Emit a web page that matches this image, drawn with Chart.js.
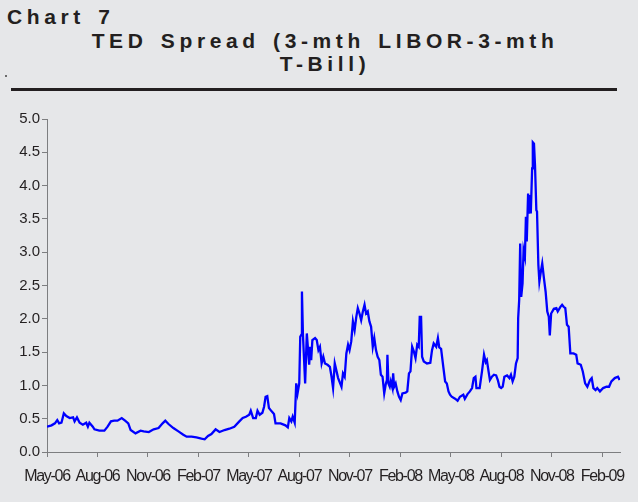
<!DOCTYPE html>
<html>
<head>
<meta charset="utf-8">
<script src="https://cdn.jsdelivr.net/npm/chart.js@4/dist/chart.umd.min.js"></script>
<style>
  html, body { margin: 0; padding: 0; }
  body { width: 638px; height: 502px; background: #e6e7e9; position: relative; overflow: hidden;
         font-family: "Liberation Sans", Arial, sans-serif; color: #231f20; }
  .t { position: absolute; font-weight: bold; font-size: 21px; line-height: 22px; white-space: nowrap;
       letter-spacing: 4.6px; word-spacing: 3px; }
  #c1 { left: 7px; top: 6px; }
  #c2 { left: 0; width: 650px; text-align: center; top: 30px; }
  #c3 { left: 0; width: 650px; text-align: center; top: 53px; }
  #rule { position: absolute; left: 11px; top: 88px; width: 606px; height: 3px; background: #231f20; }
  #dot { position: absolute; left: 5px; top: 75px; width: 2px; height: 2px; background: #6b6b6b; }
  #wrap { position: absolute; left: 0; top: 0; width: 638px; height: 502px; }
</style>
</head>
<body>
<div class="t" id="c1">Chart 7</div>
<div class="t" id="c2">TED Spread (3-mth LIBOR-3-mth</div>
<div class="t" id="c3">T-Bill)</div>
<div id="dot"></div>
<div id="rule"></div>
<div id="wrap"><canvas id="chart" width="638" height="502"></canvas></div>
<script>
// Quarter labels on the date axis (one every three months from May-06)
const tickLabels = ['May-06', 'Aug-06', 'Nov-06', 'Feb-07', 'May-07', 'Aug-07',
                    'Nov-07', 'Feb-08', 'May-08', 'Aug-08', 'Nov-08', 'Feb-09'];

// Time position in months since the start of May 2006
const months = [
  0.00, 0.27, 0.47, 0.61, 0.72, 0.86, 1.00, 1.15, 1.35, 1.55, 1.64, 1.78, 1.94, 2.13, 2.33, 2.43,
  2.52, 2.72, 2.82, 3.11, 3.41, 3.60, 3.80, 3.99, 4.19, 4.44, 4.64, 4.83, 4.97, 5.26, 5.56, 5.75,
  6.05, 6.34, 6.63, 6.87, 7.03, 7.22, 7.51, 7.81, 8.10, 8.30, 8.59, 8.88, 9.18, 9.37, 9.57, 9.77,
  10.02, 10.25, 10.55, 10.84, 11.13, 11.43, 11.63,
  11.82, 12.02, 12.11, 12.25, 12.41, 12.51, 12.64, 12.80, 12.90, 12.99, 13.09, 13.19, 13.35, 13.49,
  13.58, 13.88, 14.17, 14.31, 14.40, 14.52, 14.60, 14.72, 14.81, 14.89, 14.99, 15.05, 15.11, 15.15,
  15.21, 15.34, 15.44, 15.58, 15.64, 15.70, 15.77, 15.93, 16.03, 16.13, 16.22, 16.32, 16.42, 16.52,
  16.67, 16.81, 16.91, 17.00, 17.10, 17.30, 17.50, 17.59, 17.69, 17.79, 17.89, 17.98, 18.08, 18.18,
  18.28, 18.38, 18.47, 18.57, 18.67, 18.77, 18.87, 18.96, 19.06, 19.16, 19.26, 19.36, 19.45, 19.55,
  19.65, 19.75, 19.84, 19.94, 20.04, 20.14, 20.20, 20.23, 20.29, 20.37, 20.43, 20.53, 20.57, 20.63,
  20.72, 20.82, 20.92, 21.02, 21.12, 21.31, 21.41, 21.51, 21.60, 21.70, 21.80, 21.90, 22.00, 22.09,
  22.15, 22.23, 22.29, 22.39, 22.58, 22.78, 22.88, 22.98, 23.13,
  23.23, 23.31, 23.42, 23.56, 23.66, 23.76, 23.86, 23.95, 24.05, 24.25, 24.40, 24.54, 24.74, 24.83,
  24.99, 25.13, 25.26, 25.36, 25.46, 25.52, 25.71, 25.85, 25.97, 26.07, 26.14, 26.24, 26.32, 26.44,
  26.56, 26.69, 26.79, 26.89, 26.99, 27.08, 27.18, 27.34, 27.48, 27.57, 27.67, 27.77, 27.87, 27.97,
  28.00, 28.06, 28.12, 28.18, 28.26, 28.32, 28.40, 28.46, 28.51, 28.59, 28.65, 28.71, 28.75, 28.83,
  28.87, 28.94, 29.00, 29.08, 29.12, 29.20, 29.26, 29.33, 29.43, 29.53, 29.63, 29.73, 29.82, 29.88,
  29.96, 30.12, 30.27, 30.35, 30.51, 30.61, 30.70, 30.80, 30.90, 31.00, 31.10, 31.29, 31.45, 31.53,
  31.72, 31.84, 31.98, 32.11, 32.27, 32.37, 32.47, 32.60, 32.70, 32.86, 33.05, 33.25, 33.40, 33.54,
  33.74, 33.93, 34.03
];

// TED spread, percentage points
const spread = [
  0.38, 0.40, 0.43, 0.48, 0.43, 0.44, 0.58, 0.54, 0.51, 0.52, 0.46, 0.52, 0.44, 0.41, 0.44, 0.38,
  0.44, 0.38, 0.34, 0.32, 0.32, 0.38, 0.46, 0.47, 0.47, 0.51, 0.47, 0.43, 0.33, 0.28, 0.32, 0.31,
  0.30, 0.34, 0.36, 0.43, 0.47, 0.42, 0.36, 0.31, 0.26, 0.23, 0.23, 0.22, 0.20, 0.19, 0.24, 0.27,
  0.34, 0.30, 0.33, 0.35, 0.38, 0.46, 0.51,
  0.53, 0.56, 0.62, 0.51, 0.51, 0.62, 0.56, 0.59, 0.68, 0.83, 0.84, 0.66, 0.61, 0.57,
  0.43, 0.43, 0.40, 0.37, 0.51, 0.46, 0.53, 0.44, 1.03, 0.88, 1.03, 1.73, 1.76, 2.41,
  1.76, 1.03, 1.78, 1.31, 1.58, 1.38, 1.68, 1.71, 1.68, 1.53, 1.58, 1.33, 1.43, 1.33,
  1.31, 1.28, 1.13, 0.96, 1.33, 1.11, 0.98, 1.18, 1.13, 1.48, 1.61, 1.53, 1.66, 1.96,
  1.83, 2.03, 2.16, 2.08, 1.98, 2.11, 2.21, 2.08, 2.11, 1.96, 1.88, 1.58, 1.71, 1.53,
  1.43, 1.38, 1.16, 1.13, 0.88, 1.03, 1.08, 1.46, 1.03, 0.98, 1.06, 0.96, 1.18, 0.98,
  1.03, 0.91, 0.83, 0.78, 0.88, 0.89, 0.91, 1.18, 1.21, 1.58, 1.51, 1.41, 1.61, 1.58,
  2.03, 2.03, 1.43, 1.36, 1.33, 1.34, 1.53, 1.63, 1.58,
  1.71, 1.57, 1.55, 1.26, 1.06, 1.03, 0.91, 0.86, 0.83, 0.80, 0.77, 0.83, 0.86, 0.80,
  0.87, 0.91, 0.96, 1.11, 1.13, 0.96, 0.96, 1.21, 1.46, 1.35, 1.38, 1.21, 1.08, 1.13,
  1.16, 1.15, 1.08, 0.98, 0.96, 0.98, 1.13, 1.15, 1.11, 1.16, 1.06, 1.13, 1.33, 1.41,
  2.01, 2.28, 3.13, 2.33, 2.53, 3.03, 2.93, 3.53, 3.16, 3.88, 3.58, 3.86, 3.58, 4.26,
  4.65, 4.63, 4.31, 3.63, 3.61, 2.81, 2.56, 2.68, 2.83, 2.61, 2.41, 2.11, 2.03, 1.75,
  2.08, 2.15, 2.16, 2.11, 2.18, 2.21, 2.18, 2.16, 1.91, 1.88, 1.48, 1.48, 1.46, 1.33,
  1.31, 1.21, 1.03, 0.98, 1.08, 1.11, 0.96, 0.93, 0.96, 0.91, 0.96, 0.98, 0.98, 1.06,
  1.11, 1.13, 1.08
];

const points = months.map((m, i) => ({ x: m, y: spread[i] }));

const axisGrey = '#7d7e80';
const textDark = '#231f20';

// Tighter tracking for the date labels under the x axis
const condensedDateLabels = {
  id: 'condensedDateLabels',
  afterUpdate(chart) {
    const sx = chart.scales.x;
    if (sx && !sx._condensedPatched) {
      const orig = sx.drawLabels.bind(sx);
      sx.drawLabels = function (area) {
        const ctx = this.ctx;
        ctx.save();
        ctx.letterSpacing = '-1.3px';
        orig(area);
        ctx.restore();
      };
      sx._condensedPatched = true;
    }
  }
};

new Chart(document.getElementById('chart'), {
  type: 'line',
  data: {
    datasets: [{
      data: points,
      borderColor: '#0000ff',
      borderWidth: 2.3,
      pointRadius: 0,
      tension: 0,
      fill: false
    }]
  },
  options: {
    responsive: false,
    animation: false,
    layout: { padding: { left: 0, top: 119, right: 11, bottom: 0 } },
    plugins: { legend: { display: false }, tooltip: { enabled: false } },
    scales: {
      x: {
        type: 'linear',
        min: 0,
        max: 34.06,
        afterBuildTicks: (scale) => {
          scale.ticks = tickLabels.map((_, i) => ({ value: i * 3 }));
        },
        afterFit: (scale) => { scale.height = 50; },
        grid: { drawOnChartArea: false, drawTicks: true, tickLength: 5, color: axisGrey, lineWidth: 1 },
        border: { display: true, color: axisGrey, width: 1 },
        ticks: {
          autoSkip: false,
          maxRotation: 0,
          padding: 10,
          color: textDark,
          font: { family: 'Liberation Sans', size: 16 },
          callback: (v) => tickLabels[Math.round(v / 3)]
        }
      },
      y: {
        min: 0,
        max: 5,
        afterFit: (scale) => { scale.width = 47; },
        grid: { drawOnChartArea: false, drawTicks: true, tickLength: 5, color: axisGrey, lineWidth: 1 },
        border: { display: true, color: axisGrey, width: 1 },
        ticks: {
          stepSize: 0.5,
          padding: 2,
          color: textDark,
          font: { family: 'Liberation Sans', size: 15 },
          callback: (v) => v.toFixed(1)
        }
      }
    }
  },
  plugins: [condensedDateLabels]
});
</script>
</body>
</html>
